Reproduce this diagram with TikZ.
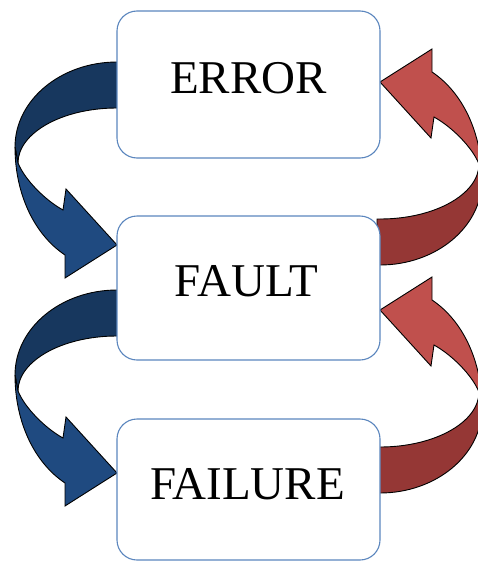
\documentclass[tikz,border=0pt]{standalone}
\usepackage{fontspec}
\setmainfont{Liberation Serif}
\definecolor{bluedark}{HTML}{17375E}
\definecolor{bluelight}{HTML}{1F4A80}
\definecolor{reddark}{HTML}{953735}
\definecolor{redlight}{HTML}{C0504D}
\definecolor{boxline}{HTML}{5B86BE}
\newcommand\drawribbon[2]{%
  % back (dark) part of the ribbon
  \draw[ribbonline, fill=#1] (120,62) -- (117,62) .. controls (61,62) and (15,100) .. (15,147)
     -- (18,163) .. controls (18,133) and (62,108) .. (117,108) -- (120,108) -- cycle;
  % front (light) part with head
  \draw[ribbonline, fill=#2] (15,147) .. controls (15,195) and (35,235) .. (65,255)
     -- (65,278) -- (117,245) -- (66,189) -- (63,210)
     .. controls (45,200) and (25,180) .. (18,163) -- cycle;
}
\tikzset{
  ribbonline/.style={draw=black, line width=0.9pt, line join=miter},
  stagebox/.style={draw=boxline, line width=1.1pt, fill=white, rounded corners=20pt,
    minimum width=263pt, inner sep=0pt},
  stagelabel/.style={font=\fontsize{47}{56}\selectfont, inner sep=0pt},
}
\begin{document}
\begin{tikzpicture}[x=1pt, y=-1pt]
\useasboundingbox (0,0) rectangle (477,562);
% ribbons (behind the boxes)
\begin{scope}
  \drawribbon{bluedark}{bluelight}
\end{scope}
\begin{scope}[shift={(0,228)}]
  \drawribbon{bluedark}{bluelight}
\end{scope}
\begin{scope}[shift={(497,327)}, xscale=-1, yscale=-1]
  \drawribbon{reddark}{redlight}
\end{scope}
\begin{scope}[shift={(497,555)}, xscale=-1, yscale=-1]
  \drawribbon{reddark}{redlight}
\end{scope}
% boxes
\node[stagebox, minimum height=147pt] (error) at (248.5,84.5) {};
\node[stagebox, minimum height=144pt] (fault) at (248.5,288) {};
\node[stagebox, minimum height=141pt] (failure) at (248.5,489.5) {};
% labels
\node[stagelabel] (errort) at (248.5,78.5) {ERROR};
\node[stagelabel] (faultt) at (246.5,281) {FAULT};
\node[stagelabel] (failuret) at (247.5,484) {FAILURE};
\end{tikzpicture}
\end{document}
